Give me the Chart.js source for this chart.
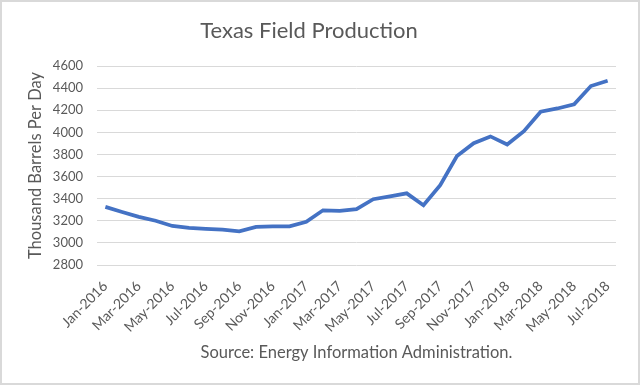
<!DOCTYPE html>
<html>
<head>
<meta charset="utf-8">
<script src="https://cdn.jsdelivr.net/npm/chart.js@4"></script>
<style>
  html, body { margin: 0; padding: 0; background: #fff; }
  #wrap { position: relative; width: 636px; height: 381px; border: 2px solid #d9d9d9; background: #fff; }
  canvas { display: block; }
</style>
</head>
<body>
<div id="wrap"><canvas id="myChart" width="636" height="381"></canvas></div>
<script>
const months = ['Jan-2016', 'Feb-2016', 'Mar-2016', 'Apr-2016', 'May-2016', 'Jun-2016',
  'Jul-2016', 'Aug-2016', 'Sep-2016', 'Oct-2016', 'Nov-2016', 'Dec-2016',
  'Jan-2017', 'Feb-2017', 'Mar-2017', 'Apr-2017', 'May-2017', 'Jun-2017',
  'Jul-2017', 'Aug-2017', 'Sep-2017', 'Oct-2017', 'Nov-2017', 'Dec-2017',
  'Jan-2018', 'Feb-2018', 'Mar-2018', 'Apr-2018', 'May-2018', 'Jun-2018', 'Jul-2018']
const production = [3326, 3280, 3235, 3200, 3153, 3135, 3126, 3120, 3105, 3144, 3150, 3150,
  3190, 3295, 3290, 3305, 3395, 3420, 3448, 3341, 3522, 3785, 3902, 3963,
  3890, 4011, 4186, 4216, 4253, 4419, 4467]
const yMin = 2800
const yMax = 4600
const yStep = 200
const titleText = 'Texas Field Production'
const yTitle = 'Thousand Barrels Per Day'
const sourceText = 'Source: Energy Information Administration.'

const font = "Lato, 'Open Sans', sans-serif"
const grey = '#595959'

const ctx = document.getElementById('myChart')

new Chart(ctx, {
    type: 'line',
    data: {
        labels: months,
        datasets: [{
            label: 'Texas',
            data: production,
            borderColor: '#4472C4',
            borderWidth: 3.75,
            pointRadius: 0,
            tension: 0,
            fill: false
        }]
    },
    options: {
        responsive: false,
        animation: false,
        layout: {
            padding: { left: 0, right: 22, top: 0, bottom: 0 }
        },
        plugins: {
            legend: { display: false },
            tooltip: { enabled: false },
            title: {
                display: true,
                text: titleText,
                color: grey,
                font: { family: font, size: 22, weight: 'normal' },
                padding: { top: 16, bottom: 21.6 }
            }
        },
        scales: {
            x: {
                offset: true,
                grid: { display: false, drawTicks: false },
                border: { display: false },
                afterFit: s => { s.height = 118 },
                ticks: {
                    autoSkip: false,
                    maxRotation: 45,
                    minRotation: 45,
                    color: grey,
                    font: { family: font, size: 14 },
                    padding: 13,
                    callback: function (val, i) {
                        return i % 2 === 0 ? this.getLabelForValue(val) : ''
                    }
                },
                title: {
                    display: true,
                    text: sourceText,
                    color: grey,
                    font: { family: font, size: 16.5 },
                    padding: { top: 0, bottom: 20 }
                }
            },
            y: {
                min: yMin,
                max: yMax,
                grid: { color: '#d9d9d9', lineWidth: 1, drawTicks: false },
                border: { display: false },
                afterFit: s => { s.width = 95 },
                ticks: {
                    stepSize: yStep,
                    color: grey,
                    font: { family: font, size: 13 },
                    padding: 14,
                    callback: v => String(v)
                },
                title: {
                    display: true,
                    text: yTitle,
                    color: grey,
                    font: { family: font, size: 16.5 },
                    padding: { top: 24, bottom: 0 }
                }
            }
        }
    }
});
</script>
</body>
</html>
